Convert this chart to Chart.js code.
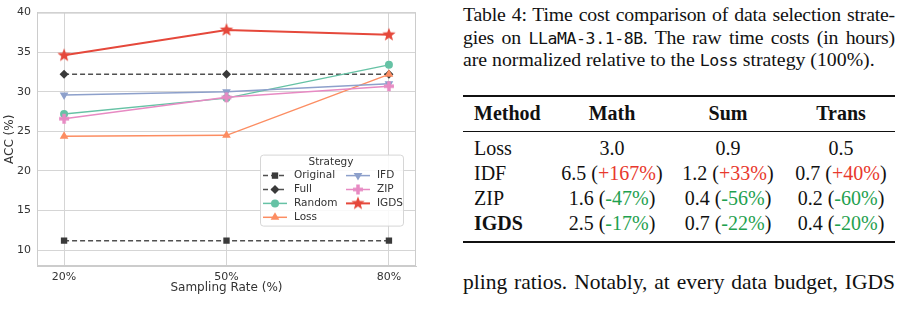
<!DOCTYPE html>
<html>
<head>
<meta charset="utf-8">
<script src="https://cdn.jsdelivr.net/npm/chart.js@4.4.1/dist/chart.umd.min.js"></script>
<style>
  body { margin: 0; background: #fff; }
  #wrap { position: relative; width: 909px; height: 318px; overflow: hidden;
          font-family: "Liberation Serif", "Times New Roman", serif; color: #111; }
  #chartBox { position: absolute; left: 0; top: 0; width: 430px; height: 318px; }
  .line { position: absolute; left: 463px; width: 432px; font-size: 19.8px; line-height: 22.5px;
          letter-spacing: -0.2px; word-spacing: -1px;
          text-align: justify; text-align-last: justify; }
  .line.last { text-align-last: left; word-spacing: 0; letter-spacing: 0; }
  .mono { font-family: "DejaVu Sans Mono", monospace; font-size: 16.5px; letter-spacing: -0.4px; }
  .rule { position: absolute; left: 463px; width: 432px; background: #111; }
  .row { position: absolute; left: 463px; width: 432px; height: 25px; line-height: 25px; font-size: 20px; }
  .row span { position: absolute; top: 0; text-align: center; white-space: nowrap; }
  .row span span { position: static; }
  .c0 { left: 11px; text-align: left !important; }
  .c1 { left: 92px; width: 114px; }
  .c2 { left: 206px; width: 118px; }
  .c3 { left: 324px; width: 108px; }
  .up { color: #e8382d; }
  .dn { color: #1fa14f; }
  b { font-weight: bold; }
</style>
</head>
<body>
<div id="wrap">
  <div id="chartBox"><canvas id="acc"></canvas></div>

  <div class="line" style="top:3px">Table 4: Time cost comparison of data selection strate-</div>
  <div class="line" style="top:26px">gies on <span class="mono">LLaMA-3.1-8B</span>. The raw time costs (in hours)</div>
  <div class="line last" style="top:48px">are normalized relative to the <span class="mono">Loss</span> strategy (100%).</div>

  <div class="rule" style="top:95px;height:1.5px"></div>
  <div class="row" style="top:101px"><span class="c0"><b>Method</b></span><span class="c1"><b>Math</b></span><span class="c2"><b>Sum</b></span><span class="c3"><b>Trans</b></span></div>
  <div class="rule" style="top:131px;height:1px"></div>
  <div class="row" style="top:136px"><span class="c0">Loss</span><span class="c1">3.0</span><span class="c2">0.9</span><span class="c3">0.5</span></div>
  <div class="row" style="top:161px"><span class="c0">IDF</span><span class="c1">6.5 (<span class="up">+167%</span>)</span><span class="c2">1.2 (<span class="up">+33%</span>)</span><span class="c3">0.7 (<span class="up">+40%</span>)</span></div>
  <div class="row" style="top:186px"><span class="c0">ZIP</span><span class="c1">1.6 (<span class="dn">-47%</span>)</span><span class="c2">0.4 (<span class="dn">-56%</span>)</span><span class="c3">0.2 (<span class="dn">-60%</span>)</span></div>
  <div class="row" style="top:211px"><span class="c0"><b>IGDS</b></span><span class="c1">2.5 (<span class="dn">-17%</span>)</span><span class="c2">0.7 (<span class="dn">-22%</span>)</span><span class="c3">0.4 (<span class="dn">-20%</span>)</span></div>
  <div class="rule" style="top:241px;height:1.5px"></div>

  <div class="line" style="top:271px;font-size:21.5px;letter-spacing:0;word-spacing:-1px">pling ratios. Notably, at every data budget, IGDS</div>
</div>

<script>
// sampling rates (%) and ACC (%) per strategy
const rates = [20, 50, 80];
const original = [11.2, 11.2, 11.2];
const full = [32.2, 32.2, 32.2];
const random = [27.2, 29.2, 33.4];
const loss = [24.4, 24.5, 32.2];
const ifd = [29.6, 30.0, 31.0];
const zip = [26.6, 29.3, 30.7];
const igds = [34.6, 37.8, 37.2];
const yTicks = [10, 15, 20, 25, 30, 35, 40];

function starImg(color, r) {
  const c = document.createElement('canvas');
  const s = Math.ceil(r * 2 + 2);
  c.width = c.height = s;
  const g = c.getContext('2d');
  g.fillStyle = color;
  g.beginPath();
  for (let i = 0; i < 10; i++) {
    const a = -Math.PI / 2 + i * Math.PI / 5;
    const rr = i % 2 ? r * 0.42 : r;
    g.lineTo(s / 2 + rr * Math.cos(a), s / 2 + rr * Math.sin(a));
  }
  g.closePath();
  g.fill();
  return c;
}

function plusImg(color, r) {
  const c = document.createElement('canvas');
  const s = Math.ceil(r * 2 + 2);
  c.width = c.height = s;
  const g = c.getContext('2d');
  g.fillStyle = color;
  const w = r * 0.7;
  g.fillRect(s / 2 - r, s / 2 - w / 2, 2 * r, w);
  g.fillRect(s / 2 - w / 2, s / 2 - r, w, 2 * r);
  return c;
}

const pts = arr => rates.map((r, i) => ({ x: r, y: arr[i] }));

const series = [
  { label: 'Original', data: original, line: '#505050', mark: '#3a3a3a', style: 'rect', radius: 4.5, dash: [5, 3], col: 0 },
  { label: 'Full', data: full, line: '#505050', mark: '#3a3a3a', style: 'rectRot', radius: 4.5, dash: [5, 3], col: 0 },
  { label: 'Random', data: random, line: '#66c2a5', mark: '#66c2a5', style: 'circle', radius: 4, dash: [], col: 0 },
  { label: 'Loss', data: loss, line: '#fc8d62', mark: '#fc8d62', style: 'triangle', radius: 5, dash: [], col: 0 },
  { label: 'IFD', data: ifd, line: '#8da0cb', mark: '#8da0cb', style: 'triangle', rotation: 180, radius: 5, dash: [], col: 1 },
  { label: 'ZIP', data: zip, line: '#e78ac3', mark: '#e78ac3', style: plusImg('#e78ac3', 5), radius: 5, dash: [], col: 1 },
  { label: 'IGDS', data: igds, line: '#e5483b', mark: '#e5483b', style: starImg('#e5483b', 7), radius: 6, dash: [], col: 1, width: 2 }
];

function marker(ctx, s, x, y) {
  ctx.save();
  ctx.fillStyle = s.mark;
  ctx.translate(x, y);
  const r = s.radius;
  if (typeof s.style !== 'string') {
    ctx.drawImage(s.style, -s.style.width / 2, -s.style.height / 2);
  } else if (s.style === 'circle') {
    ctx.beginPath(); ctx.arc(0, 0, r, 0, Math.PI * 2); ctx.fill();
  } else if (s.style === 'rect') {
    const h = r / Math.SQRT2; ctx.fillRect(-h, -h, 2 * h, 2 * h);
  } else if (s.style === 'rectRot') {
    ctx.beginPath(); ctx.moveTo(0, -r); ctx.lineTo(r, 0); ctx.lineTo(0, r); ctx.lineTo(-r, 0); ctx.fill();
  } else if (s.style === 'triangle') {
    if (s.rotation) ctx.rotate(Math.PI);
    ctx.beginPath(); ctx.moveTo(0, -r); ctx.lineTo(r * 0.87, r * 0.5); ctx.lineTo(-r * 0.87, r * 0.5); ctx.fill();
  }
  ctx.restore();
}

const legendBox = {
  id: 'legendBox',
  afterDraw(chart) {
    const ctx = chart.ctx;
    const a = chart.chartArea;
    // frame around plot (all four spines)
    ctx.save();
    ctx.strokeStyle = '#cccccc';
    ctx.lineWidth = 1;
    ctx.strokeRect(a.left + 0.5, a.top + 0.5, a.right - a.left - 1, a.bottom - a.top - 1);
    // legend
    const x0 = a.right - 156, y0 = a.top + 142, w = 143, h = 71;
    ctx.fillStyle = 'rgba(255,255,255,0.85)';
    ctx.strokeStyle = '#d6d6d6';
    ctx.beginPath();
    ctx.roundRect(x0 + 0.5, y0 + 0.5, w, h, 3);
    ctx.fill(); ctx.stroke();
    ctx.fillStyle = '#333';
    ctx.font = '10.5px "DejaVu Sans"';
    ctx.textAlign = 'center';
    ctx.textBaseline = 'middle';
    ctx.fillText('Strategy', x0 + 71, y0 + 8);
    ctx.textAlign = 'left';
    const rows = [0, 0];
    series.forEach(s => {
      const hx = x0 + (s.col ? 86 : 3);
      const y = y0 + 21 + rows[s.col] * 13.9;
      rows[s.col]++;
      ctx.save();
      ctx.strokeStyle = s.line;
      ctx.lineWidth = s.width || 1.5;
      ctx.setLineDash(s.dash);
      ctx.beginPath(); ctx.moveTo(hx, y); ctx.lineTo(hx + 24, y); ctx.stroke();
      ctx.restore();
      marker(ctx, s, hx + 12, y);
      ctx.fillStyle = '#333';
      ctx.fillText(s.label, hx + 31, y);
    });
    ctx.restore();
  }
};

const tickFont = { family: 'DejaVu Sans', size: 11 };
const titleFont = { family: 'DejaVu Sans', size: 12 };

new Chart(document.getElementById('acc'), {
  type: 'line',
  data: {
    datasets: series.map((s, i) => ({
      label: s.label,
      data: pts(s.data),
      borderColor: s.line,
      borderWidth: s.width || 1.5,
      borderDash: s.dash,
      pointStyle: s.style,
      rotation: s.rotation || 0,
      pointRadius: s.radius,
      pointBackgroundColor: s.mark,
      pointBorderColor: s.mark,
      pointBorderWidth: 0,
      tension: 0,
      order: series.length - i
    }))
  },
  options: {
    responsive: true,
    maintainAspectRatio: false,
    animation: false,
    layout: { padding: { top: 10, right: 14, left: 0, bottom: 0 } },
    plugins: { legend: { display: false }, tooltip: { enabled: false } },
    scales: {
      x: {
        type: 'linear',
        min: 15,
        max: 85,
        afterBuildTicks: s => { s.ticks = rates.map(v => ({ value: v })); },
        afterFit: s => { s.height = 52; },
        ticks: { font: tickFont, color: '#333', padding: 5, callback: v => v + '%' },
        grid: { color: '#d5d5d5', drawTicks: false },
        border: { color: '#cccccc' },
        title: { display: true, text: 'Sampling Rate (%)', font: titleFont, color: '#333', padding: { top: 0, bottom: 23 } }
      },
      y: {
        min: 8,
        max: 40,
        afterBuildTicks: s => { s.ticks = yTicks.map(v => ({ value: v })); },
        afterFit: s => { s.width = 37; },
        ticks: { font: tickFont, color: '#333', padding: 6 },
        grid: { color: '#d5d5d5', drawTicks: false },
        border: { color: '#cccccc' },
        title: { display: true, text: 'ACC (%)', font: titleFont, color: '#333', padding: { top: 3, bottom: 0 } }
      }
    }
  },
  plugins: [legendBox]
});
</script>
</body>
</html>
